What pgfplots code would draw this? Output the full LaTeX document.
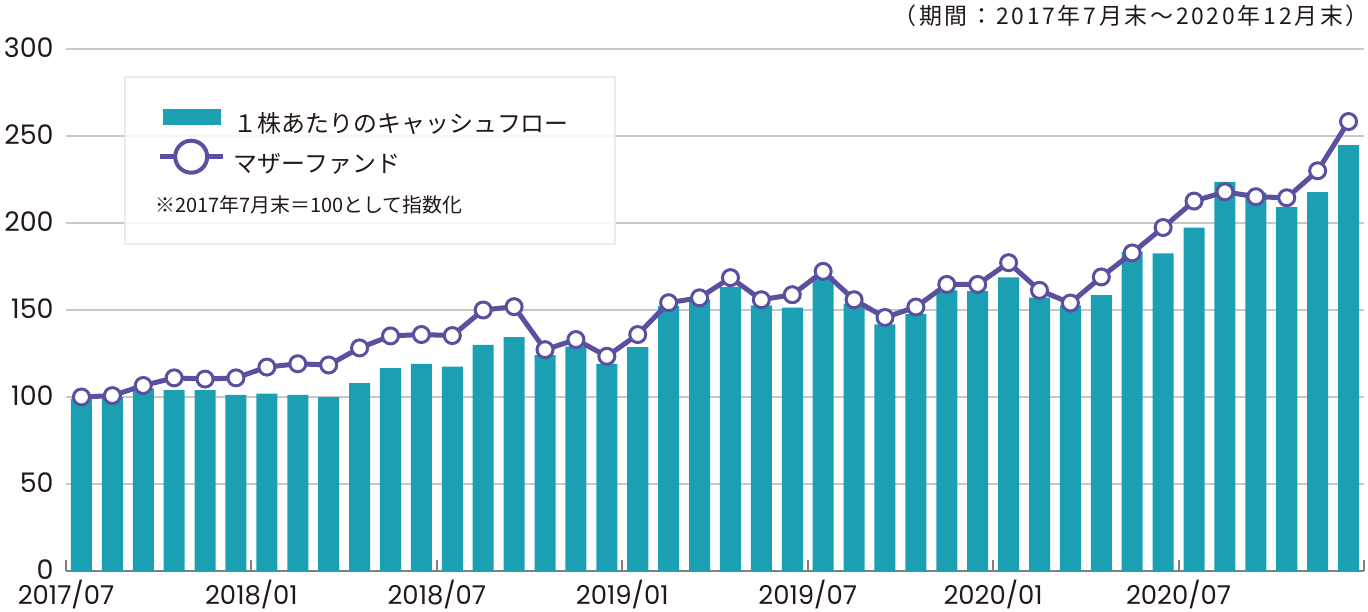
\documentclass[border=0pt]{standalone}
\usepackage{fontspec}
\setmainfont{Poppins}
\newfontfamily\jp{Noto Sans CJK JP}
\usepackage{pgfplots}
\usepackage{pgfplotstable}
\pgfplotsset{compat=1.18}

\definecolor{barcol}{HTML}{1B9FB2}
\definecolor{linecol}{HTML}{5B4FA0}
\definecolor{txt}{HTML}{231815}
\definecolor{gridgray}{HTML}{C8C8C8}
\definecolor{axisgray}{HTML}{808080}
\definecolor{boxgray}{HTML}{EBEBEB}

% month index (centre of bar), cash flow per share, mother fund (2017/07 = 100)
\pgfplotstableread{
x    cf     fund
0.5  99.0   100.0
1.5  100.0  100.8
2.5  105.0  106.6
3.5  104.0  111.0
4.5  104.0  110.3
5.5  101.2  111.0
6.5  102.0  117.2
7.5  101.2  119.1
8.5  99.9   118.4
9.5  108.0  128.2
10.5 116.6  135.1
11.5 119.0  135.9
12.5 117.4  135.3
13.5 130.0  150.0
14.5 134.4  151.9
15.5 124.0  127.2
16.5 129.0  133.0
17.5 119.0  123.4
18.5 128.6  135.9
19.5 152.3  154.2
20.5 156.1  157.0
21.5 163.2  168.6
22.5 152.6  155.9
23.5 151.3  158.8
24.5 169.5  172.2
25.5 153.6  155.9
26.5 141.7  145.7
27.5 147.7  151.7
28.5 161.3  164.7
29.5 160.9  164.7
30.5 168.8  177.2
31.5 157.1  161.3
32.5 152.6  154.0
33.5 158.6  169.0
34.5 183.4  182.8
35.5 182.6  197.4
36.5 197.4  212.6
37.5 223.7  217.9
38.5 217.5  215.1
39.5 209.1  214.5
40.5 217.7  230.0
41.5 244.8  258.3
}\datatable

\begin{document}
\begin{tikzpicture}
\useasboundingbox (-33bp,-20.5bp) rectangle (651bp,285.5bp);
\begin{axis}[
  at={(0,0)}, anchor=south west,
  scale only axis,
  width=649bp, height=261bp,
  xmin=0, xmax=42,
  ymin=0, ymax=300,
  clip=false,
  axis x line*=bottom, axis y line*=left,
  x axis line style={draw=axisgray, line width=1bp, -},
  y axis line style={draw=none},
  xtick={0,6,...,42},
  xticklabels={2017/07,2018/01,2018/07,2019/01,2019/07,2020/01,2020/07,},
  ytick={0,50,...,300},
  tick align=inside,
  major tick length=5.5bp,
  xtick style={draw=axisgray, line width=1bp},
  ytick style={draw=none},
  ymajorgrids,
  grid style={draw=gridgray, line width=1bp},
  /pgf/number format/assume math mode=true,
  ticklabel style={text=txt},
  xticklabel style={font=\fontsize{13}{14}\selectfont, inner sep=0pt, yshift=-4.5bp},
  yticklabel style={font=\fontsize{13.5}{14}\selectfont, inner sep=0pt, xshift=-6bp, yshift=0.5bp},
  legend style={
    at={(0.0701,0.886)}, anchor=north west,
    draw=none, fill=none, inner sep=0pt,
    row sep=1bp,
    font=\jp\fontsize{12}{13}\selectfont, text=txt,
    nodes={inner sep=0pt, text height=9bp, text depth=2bp},
    /tikz/every odd column/.append style={column sep=4.5bp},
  },
  legend cell align=left,
]
\draw[draw=boxgray, line width=1.2bp, fill=white, fill opacity=0.85]
  (rel axis cs:0.0455,0.946) rectangle (rel axis cs:0.423,0.626);

\addplot[ybar, bar width=0.68, bar shift=0pt, fill=barcol, draw=none,
  legend image code/.code={\fill[barcol] (1.5bp,0.4bp) rectangle (30.5bp,8.4bp);}]
  table[x=x, y=cf] {\datatable};
\addlegendentry{１株あたりのキャッシュフロー}

\addplot[linecol, line width=2.5bp, mark=*, mark size=4bp,
  mark options={fill=white, draw=linecol, line width=1.5bp},
  legend image code/.code={
    \draw[linecol, line width=2.3bp] (0bp,4.4bp) -- (31.5bp,4.4bp);
    \draw[linecol, line width=2bp, fill=white] (15.75bp,4.4bp) circle (8bp);}]
  table[x=x, y=fund] {\datatable};
\addlegendentry{マザーファンド}

\node[anchor=west, font=\jp\fontsize{10}{11}\selectfont, text=txt, inner sep=0pt]
  at (rel axis cs:0.0686,0.701) {※2017年7月末＝100として指数化};

\node[anchor=east, inner sep=0pt, text=txt,
  font=\jp\fontsize{11.5}{12}\selectfont\addfontfeature{LetterSpace=12}]
  at (rel axis cs:1.004,1.063) {（期間：2017年7月末～2020年12月末）};
\end{axis}
\end{tikzpicture}
\end{document}
